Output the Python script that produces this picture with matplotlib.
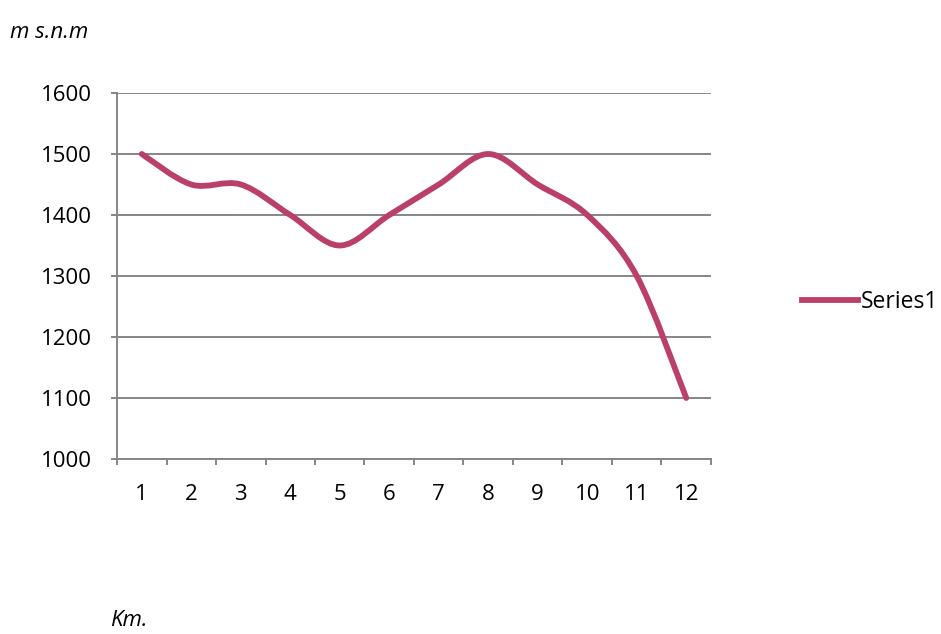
import numpy as np
import matplotlib.pyplot as plt
from matplotlib.path import Path
from matplotlib.patches import PathPatch
from matplotlib.lines import Line2D

# ---- data ---------------------------------------------------------------------
km = ["1", "2", "3", "4", "5", "6", "7", "8", "9", "10", "11", "12"]
altitude = [1500, 1450, 1450, 1400, 1350, 1400, 1450, 1500, 1450, 1400, 1300, 1100]
y_ticks = [1000, 1100, 1200, 1300, 1400, 1500, 1600]
series_name = "Series1"
# -------------------------------------------------------------------------------

line_color = "#BB3F6B"
grid_color = "#868686"
plt.rcParams['font.family'] = ['Open Sans', 'DejaVu Sans']

fig = plt.figure(figsize=(9.41, 6.34), dpi=100)
ax = fig.add_axes([117/941, 1 - 459/634, (711-117)/941, (459-93)/634])

# smoothed line (excel-like bezier through the points)
x = np.arange(len(altitude), dtype=float)
y = np.array(altitude, dtype=float)
verts = [(x[0], y[0])]
codes = [Path.MOVETO]
n = len(x)
for i in range(n - 1):
    i0 = max(i - 1, 0)
    i3 = min(i + 2, n - 1)
    c1 = (x[i] + (x[i+1] - x[i0]) / 6, y[i] + (y[i+1] - y[i0]) / 6)
    c2 = (x[i+1] - (x[i3] - x[i]) / 6, y[i+1] - (y[i3] - y[i]) / 6)
    verts += [c1, c2, (x[i+1], y[i+1])]
    codes += [Path.CURVE4] * 3
ax.add_patch(PathPatch(Path(verts, codes), facecolor="none", edgecolor=line_color,
                       lw=4.2, capstyle="round", joinstyle="round", zorder=3))

ax.set_xlim(-0.5, n - 0.5)
ax.set_ylim(1000, 1600)
ax.set_yticks(y_ticks)
ax.set_xticks(x)
ax.set_xticklabels(km)
ax.set_xticks(np.arange(-0.5, n, 1.0), minor=True)

ax.grid(axis="y", color=grid_color, lw=1.4)
ax.set_axisbelow(True)
for s in ["top", "right"]:
    ax.spines[s].set_visible(False)
for s in ["left", "bottom"]:
    ax.spines[s].set_color(grid_color)
    ax.spines[s].set_linewidth(1.4)

ax.tick_params(axis="y", length=4.3, width=1.4, color=grid_color, pad=14, labelsize=16)
ax.tick_params(axis="x", which="major", length=0, pad=18, labelsize=16)
ax.tick_params(axis="x", which="minor", length=4.3, width=1.4, color=grid_color)

fig.text(10/941, 1 - 33/634, "m s.n.m", fontsize=16, style="italic", va="center", ha="left")
fig.text(110/941, 1 - 621/634, "Km.", fontsize=16, style="italic", va="center", ha="left")

handle = Line2D([], [], color=line_color, lw=4.2)
ax.legend([handle], [series_name], loc="center left", bbox_to_anchor=(802/941, 1 - 302/634),
          bbox_transform=fig.transFigure, frameon=False, fontsize=16.5,
          handlelength=2.45, handletextpad=0.1, borderaxespad=0, borderpad=0)

fig.savefig("out.png", dpi=100)
